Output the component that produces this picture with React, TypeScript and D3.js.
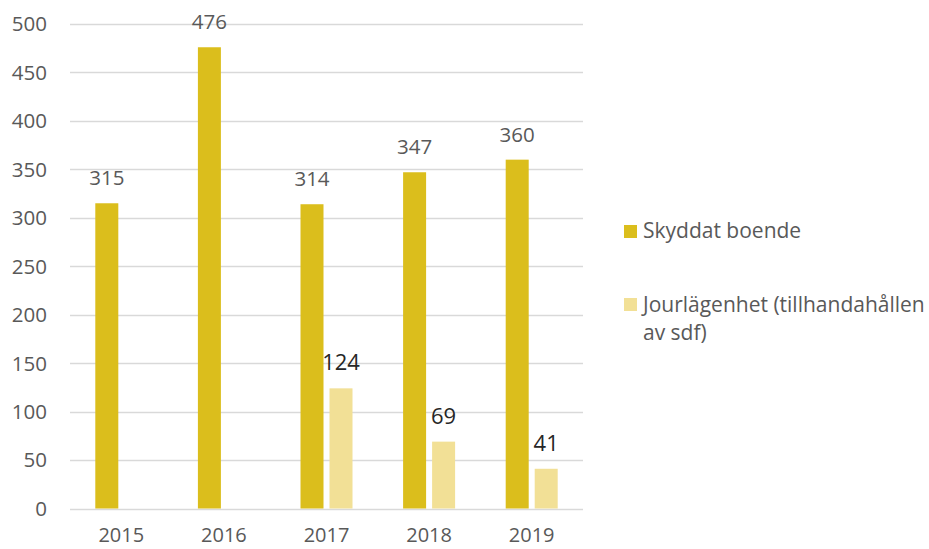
import React from "react";
import * as d3 from "d3";

const years = ["2015", "2016", "2017", "2018", "2019"];
const skyddat: (number | null)[] = [315, 476, 314, 347, 360];
const jour: (number | null)[] = [null, null, 124, 69, 41];
const yTicks = [0, 50, 100, 150, 200, 250, 300, 350, 400, 450, 500];
const seriesNames = ["Skyddat boende", "Jourlägenhet (tillhandahållen", "av sdf)"];

const W = 929;
const H = 549;
const FONT = "'Open Sans', 'Liberation Sans', sans-serif";
const C1 = "#DBBE1C";
const C2 = "#F2E096";
const TXT = "#595959";

export default function App() {
  const x = d3.scaleBand<string>().domain(years).range([70, 583]).paddingInner(0).paddingOuter(0);
  const y = d3.scaleLinear().domain([0, 500]).range([508.5, 24]);
  const barW = 23;
  const gap = 6;
  const groupW = barW * 2 + gap;
  const series = [
    { vals: skyddat, color: C1, off: 0, lblColor: TXT, lblSize: 20.5 },
    { vals: jour, color: C2, off: barW + gap, lblColor: "#262626", lblSize: 22 },
  ];
  return (
    <svg width={W} height={H} style={{ position: "absolute", left: 0, top: 0, background: "#fff" }} fontFamily={FONT}>
      {yTicks.map((t) => (
        <g key={t}>
          <line x1={70} x2={583} y1={Math.round(y(t)) + 0.5} y2={Math.round(y(t)) + 0.5} stroke="#D9D9D9" strokeWidth={1.5} />
          <text x={47} y={y(t)} dy="0.36em" textAnchor="end" fontSize={20.5} fill={TXT}>{t}</text>
        </g>
      ))}
      {series.map((s, si) =>
        years.map((yr, i) => {
          const v = s.vals[i];
          if (v == null) return null;
          const bx = (x(yr) as number) + x.bandwidth() / 2 - groupW / 2 + s.off;
          return (
            <g key={si + "-" + yr}>
              <rect x={bx} y={y(v)} width={barW} height={y(0) - y(v)} fill={s.color} />
              <text x={bx + barW / 2} y={y(v) - 18} textAnchor="middle" fontSize={s.lblSize} fill={s.lblColor}>{v}</text>
            </g>
          );
        })
      )}
      {years.map((yr) => (
        <text key={yr} x={(x(yr) as number) + x.bandwidth() / 2} y={542} textAnchor="middle" fontSize={20} fill={TXT}>{yr}</text>
      ))}
      <rect x={624} y={225} width={13} height={13} fill={C1} />
      <text x={643} y={238} fontSize={21} fill={TXT}>{seriesNames[0]}</text>
      <rect x={624} y={298} width={13} height={13} fill={C2} />
      <text x={643} y={312} fontSize={21} fill={TXT}>{seriesNames[1]}</text>
      <text x={643} y={340} fontSize={21} fill={TXT}>{seriesNames[2]}</text>
    </svg>
  );
}
